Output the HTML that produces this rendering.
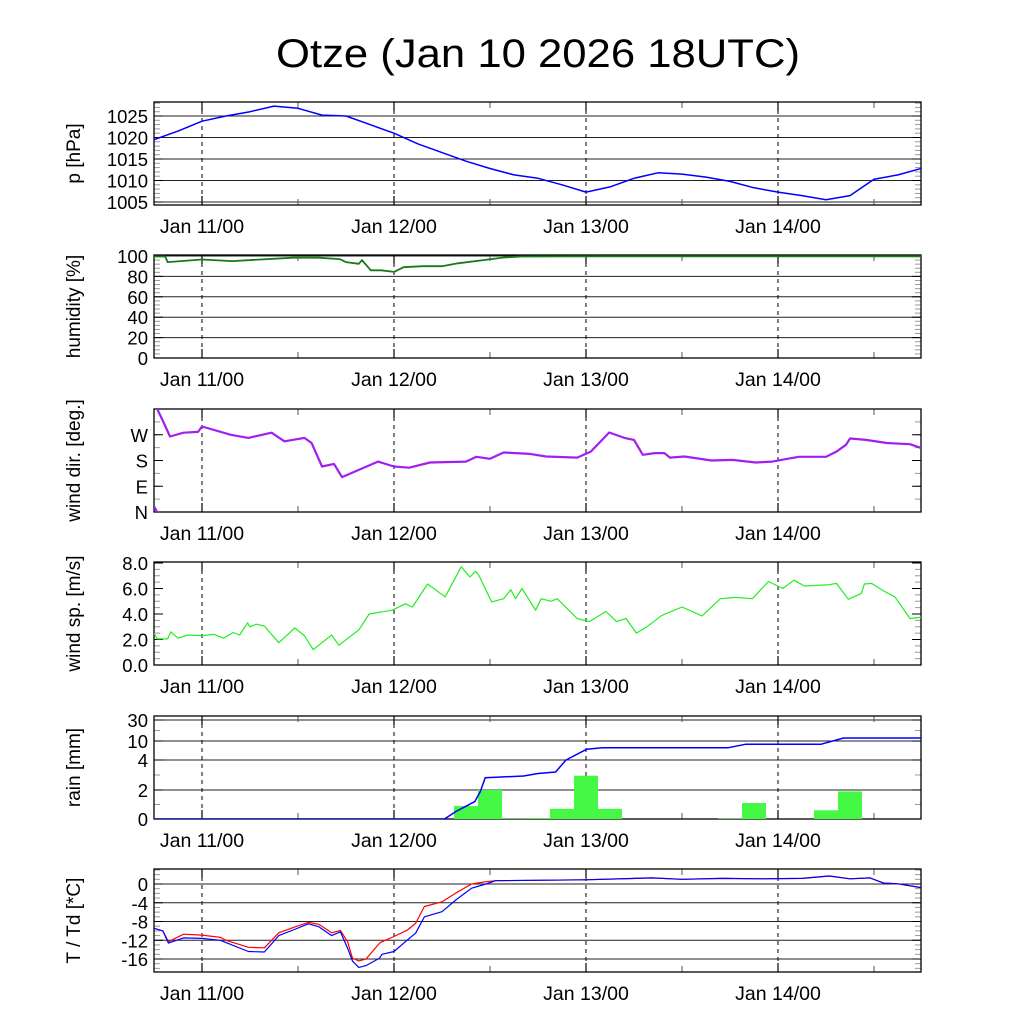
<!DOCTYPE html>
<html><head><meta charset="utf-8"><style>
html,body{margin:0;padding:0;background:#fff;}
svg{display:block;font-family:"Liberation Sans",Arial,sans-serif;}
</style></head><body>
<svg id="chart" width="1024" height="1024" viewBox="0 0 1024 1024" xmlns="http://www.w3.org/2000/svg">
<rect width="1024" height="1024" fill="#fff"/>
<text x="276" y="67" font-size="40" textLength="524" lengthAdjust="spacingAndGlyphs">Otze (Jan 10 2026 18UTC)</text>
</svg>
<script>
// ---- data (hours since Jan 11 00UTC) ----
const dayHours = [0, 24, 48, 72];
const dayLabels = ["Jan 11/00", "Jan 12/00", "Jan 13/00", "Jan 14/00"];
const halfDayHours = [-6, 12, 36, 60, 84];

const pTimes = [-6,-3,0,3,6,9,12,15,18,21,24,27,30,33,36,39,42,45,48,51,54,57,60,63,66,69,72,75,78,81,84,87,90.7];
const pVals = [1019.5,1021.5,1023.8,1025,1026,1027.3,1026.8,1025.2,1025,1023,1021,1018.5,1016.5,1014.5,1012.8,1011.3,1010.5,1009,1007.3,1008.5,1010.5,1011.8,1011.5,1010.8,1009.8,1008.3,1007.3,1006.5,1005.5,1006.5,1010.3,1011.3,1013.2];

const hTimes = [-6,-4.6,-4.3,0,3.8,11.4,14.6,17.2,18,19.6,20,21.1,22.4,24,25.2,27.6,30,32,35.8,37.7,40,50,90.7];
const hVals = [99.5,99.5,94,96.6,95,98.3,98.3,97,94,92.4,96,86,86,84.4,89,90,90,92.8,96.6,98.5,99.5,99.7,99.7];

const dTimes = [-6,-5.6,-5,-4,-2.3,-0.5,0,3.6,5.8,8.7,10.3,12.8,13.7,15,16.5,17.5,19.6,22,24,25.9,28.5,33,34.3,36,37.7,41,43,46.9,48.6,50.9,52.8,54,55.1,56.6,57.8,58.5,60.3,63.7,66.3,69.2,71.3,73,74.6,78,79.3,80.5,81,83,85.6,88.5,90.8];
const dVals = [380,360,325,264,277,280,299,270,259,277,247,259,241,159,168,122,147,176,159,155,173,176,193,186,208,203,194,190,211,278,259,252,200,206,206,190,194,180,182,173,176,185,193,193,211,235,257,252,241,237,215];

const sTimes = [-6,-5.6,-4.3,-3.9,-3,-1.8,0,1.5,2.7,3.9,4.7,5.7,6,6.8,7.8,9.6,11.6,12.8,13.9,16.2,17.1,19.6,20.9,23.8,25.4,26.3,28.2,30.4,32.4,33.5,34.2,34.6,36.2,37.7,38.6,39.2,40,41.7,42.4,43.6,44.4,46.9,48.4,50.5,51.8,53,54.3,55.6,57.5,60,62.5,64.8,66.7,68.8,70.8,72.6,74,75.3,78.4,79.3,80.8,82.4,82.8,83.7,85.2,86.6,88.5,90.7];
const sVals = [2.5,2.05,2.05,2.6,2.1,2.35,2.3,2.4,2.1,2.55,2.35,3.3,3.0,3.2,3.05,1.75,2.9,2.3,1.2,2.35,1.55,2.75,4.0,4.3,4.8,4.55,6.35,5.35,7.7,6.9,7.35,7.05,4.95,5.2,5.9,5.2,6.0,4.3,5.2,5.0,5.2,3.65,3.4,4.2,3.4,3.65,2.5,3.0,3.9,4.55,3.85,5.2,5.3,5.2,6.55,6.0,6.65,6.2,6.3,6.4,5.15,5.6,6.35,6.4,5.8,5.35,3.65,3.8];

const rainCenters = [33,36,39,42,45,48,51,66,69,78,81];
const rainVals = [0.9,2.0,0.03,0.05,0.7,2.95,0.7,0.03,1.1,0.6,1.9];
const cumTimes = [-6,30.3,31.7,34.1,34.8,35.4,40.2,42,44.2,45.5,48.1,50,65.8,68,77.4,80.2,90.7];
const cumVals = [0,0,0.5,1.2,1.9,2.82,2.93,3.1,3.2,4.0,7.4,7.9,7.9,9.0,9.0,12.9,12.9];

const tTimes = [-6,-4.9,-4.2,-2.3,0,2.3,3,5.8,7.8,9.6,11.7,13.3,14.6,16.2,17.3,18.2,18.8,19.6,20.5,22.2,22.5,24,25.7,26.7,27.8,30,31.8,33.7,35.5,36.7,47.8,56.2,60,65,70,75,78.4,81,83.5,85.2,87,90.7];
const tVals = [-9.45,-10,-12.3,-10.7,-10.9,-11.4,-12,-13.5,-13.6,-10.4,-9.1,-8.2,-8.6,-10.4,-9.9,-12.3,-15.8,-16.4,-16,-12.6,-12.3,-11.2,-9.8,-8.4,-4.8,-3.8,-1.85,0,0.5,0.7,0.9,1.3,1.0,1.2,1.1,1.2,1.7,1.1,1.3,0.2,0.05,-1.0];
const tdVals = [-9.45,-10,-12.6,-11.5,-11.6,-12,-12.5,-14.4,-14.5,-11,-9.6,-8.5,-9.1,-11,-10.2,-13.7,-16.4,-17.8,-17.4,-15.8,-15,-14.4,-11.9,-10.5,-7.0,-5.9,-3.3,-0.9,0,0.7,0.9,1.3,1.0,1.2,1.1,1.2,1.7,1.1,1.3,0.2,0.05,-1.0];

const pTicks = [1005,1010,1015,1020,1025];
const hTicks = [0,20,40,60,80,100];
const dTicks = [0,90,180,270];
const dTickLabels = ["N","E","S","W"];
const sTicks = [0,2,4,6,8];
const sTickLabels = ["0.0","2.0","4.0","6.0","8.0"];
const rTicks = [0,2,4,10,30];
const tTicks = [0,-4,-8,-12,-16];

// ---- layout ----
const NS = "http://www.w3.org/2000/svg";
const svg = document.getElementById("chart");
const X0 = 154, X1 = 921;
const H0 = -6, PXH = 8;
function xs(h){ return X0 + (h - H0) * PXH; }
function el(tag, attrs, parent){
  const e = document.createElementNS(NS, tag);
  for (const k in attrs) e.setAttribute(k, attrs[k]);
  (parent || svg).appendChild(e);
  return e;
}
function linScale(d0,d1,top,bot){ return v => bot - (v - d0) / (d1 - d0) * (bot - top); }
function pieceScale(ticks, fracs, top, bot){
  return v => {
    let i = 0;
    while (i < ticks.length - 2 && v > ticks[i+1]) i++;
    const f = fracs[i] + (v - ticks[i]) / (ticks[i+1] - ticks[i]) * (fracs[i+1] - fracs[i]);
    return bot - f * (bot - top);
  };
}

function panel(name, top, bot, ys, ticks, labels, minorTicks, grid, ylabel){
  const g = el("g", {});
  
  
  const cid = "clip-" + name;
  const cp = el("clipPath", {id: cid}, g);
  el("rect", {x: X0, y: top, width: X1 - X0, height: bot - top}, cp);
  if (grid) ticks.forEach(t => {
    const y = ys(t);
    const ln = el("line", {x1: X0, x2: X1, y1: y, y2: y, stroke: "#222", "stroke-width": 1}, g);
    
    
  });
  minorTicks.forEach(t => {
    const y = ys(t);
    el("line", {x1: X0, x2: X0 + 6, y1: y, y2: y, stroke: "#999", "stroke-width": 1}, g);
    el("line", {x1: X1 - 6, x2: X1, y1: y, y2: y, stroke: "#999", "stroke-width": 1}, g);
  });
  ticks.forEach((t, i) => {
    const y = ys(t);
    el("line", {x1: X0, x2: X0 + 9, y1: y, y2: y, stroke: "#000", "stroke-width": 1}, g);
    el("line", {x1: X1 - 9, x2: X1, y1: y, y2: y, stroke: "#000", "stroke-width": 1}, g);
    const tx = el("text", {x: 148, y: y + 7, "font-size": 18.5, "text-anchor": "end"}, g);
    
    
    tx.textContent = labels[i];
  });
  dayHours.forEach((h, i) => {
    const x = xs(h);
    const dl = el("line", {x1: x, x2: x, y1: top, y2: bot, stroke: "#000", "stroke-width": 1, "stroke-dasharray": "4,4"}, g);
    
    
    el("line", {x1: x, x2: x, y1: bot - 9, y2: bot, stroke: "#000", "stroke-width": 1.2}, g);
    el("line", {x1: x, x2: x, y1: top, y2: top + 9, stroke: "#000", "stroke-width": 1.2}, g);
    const lb = el("text", {x: x, y: bot + 28, "font-size": 19.5, "text-anchor": "middle"}, g);
    
    
    lb.textContent = dayLabels[i];
  });
  halfDayHours.forEach(h => {
    const x = xs(h);
    if (x <= X0 + 1) return;
    el("line", {x1: x, x2: x, y1: bot - 6, y2: bot, stroke: "#555", "stroke-width": 1}, g);
    el("line", {x1: x, x2: x, y1: top, y2: top + 6, stroke: "#555", "stroke-width": 1}, g);
  });
  const fr = el("rect", {x: X0, y: top, width: X1 - X0, height: bot - top, fill: "none", stroke: "#000", "stroke-width": 1.3}, g);
  
  
  const cy = (top + bot) / 2;
  const yl = el("text", {x: 80, y: cy, "font-size": 19, "text-anchor": "middle", transform: "rotate(-90 80 " + cy + ")"}, g);
  
  
  yl.textContent = ylabel;
  const plot = el("g", {"clip-path": "url(#" + cid + ")"}, g);
  return plot;
}
function line(parent, times, vals, ys, color, w, name, shift){
  const d = times.map((t, i) => (i ? "L" : "M") + xs(t).toFixed(1) + "," + ys(vals[i] + (shift || 0)).toFixed(1)).join(" ");
  const p = el("path", {d: d, fill: "none", stroke: color, "stroke-width": w, "stroke-linejoin": "round"}, parent);
  
  
  return p;
}
function range(a, b, s){ const r = []; for (let v = a; v <= b + 1e-9; v += s) r.push(+v.toFixed(3)); return r; }

// pressure
const pY = linScale(1005, 1025, 116, 202);
const pPlot = panel("pressure", 102, 205, pY, pTicks, pTicks.map(String), range(1005, 1028, 1), true, "p [hPa]");
line(pPlot, pTimes, pVals, pY, "#0000ff", 1.5, "pressure-line");

// humidity
const hY = linScale(0, 100, 256, 358);
const hPlot = panel("humidity", 255, 358, hY, hTicks, hTicks.map(String), range(0, 100, 4), true, "humidity [%]");
line(hPlot, hTimes, hVals, hY, "#1a7a1a", 1.8, "humidity-line");

// wind direction
const dY = linScale(0, 360, 409, 512);
const dPlot = panel("wind-dir", 409, 512, dY, dTicks, dTickLabels, range(0, 360, 45), false, "wind dir. [deg.]");
line(dPlot, dTimes, dVals, dY, "#a020f0", 2.2, "wind-dir-line");
line(dPlot, dTimes, dVals, dY, "#a020f0", 2.2, "wind-dir-line-wrapped", -360);

// wind speed
const sY = linScale(0, 8, 563, 665);
const sPlot = panel("wind-speed", 562, 665, sY, sTicks, sTickLabels, range(0, 8, 0.5), false, "wind sp. [m/s]");
line(sPlot, sTimes, sVals, sY, "#22ee22", 1.2, "wind-speed-line");

// rain
const rY = pieceScale(rTicks, [0, 0.282, 0.573, 0.757, 0.961], 716, 819);
const rPlot = panel("rain", 716, 819, rY, rTicks, rTicks.map(String), [1, 3, 20], true, "rain [mm]");
rainCenters.forEach((c, i) => {
  const x0 = xs(c - 1.5), x1 = xs(c + 1.5), y = rY(rainVals[i]);
  const b = el("rect", {x: x0, y: y, width: x1 - x0, height: rY(0) - y, fill: "#44f844"}, rPlot);
  
  
});
line(rPlot, cumTimes, cumVals, rY, "#0000ff", 1.5, "rain-cumulative-line");

// temperature
const tY = linScale(-16, 0, 884, 959);
const tPlot = panel("temperature", 869, 972, tY, tTicks, tTicks.map(String), range(-18, 3, 1), true, "T / Td [*C]");
line(tPlot, tTimes, tVals, tY, "#ff0000", 1.2, "temperature-line");
line(tPlot, tTimes, tdVals, tY, "#0000ff", 1.2, "dewpoint-line");
</script>
</body></html>
